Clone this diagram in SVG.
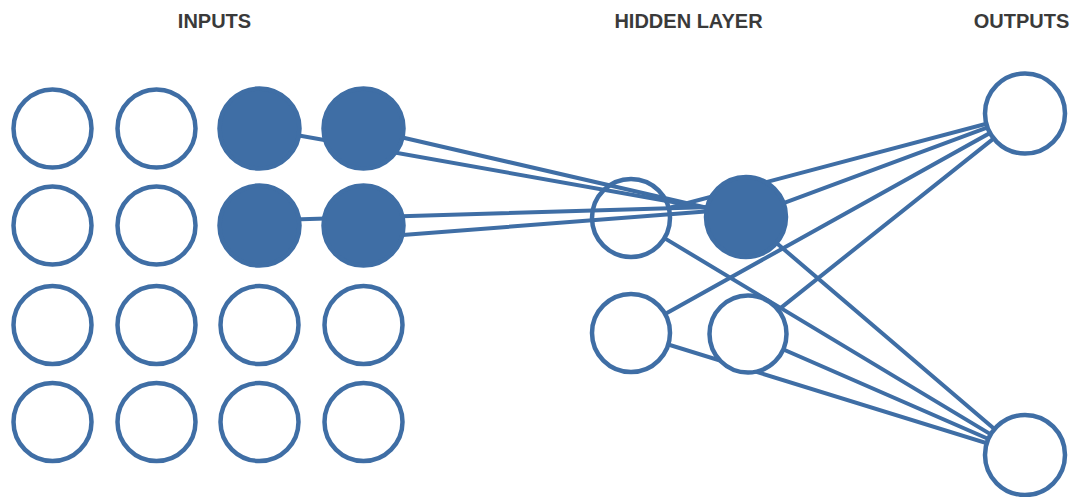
<svg xmlns="http://www.w3.org/2000/svg" width="1074" height="497" viewBox="0 0 1074 497">
  <style>
    .lbl { font-family: "Liberation Sans", Arial, sans-serif; font-weight: bold; font-size: 20px; fill: #3a3a3a; text-anchor: middle; }
    .edge { stroke: #3f6ea5; stroke-width: 4; fill: none; stroke-linecap: round; }
    .open { fill: #ffffff; stroke: #3f6ea5; stroke-width: 4.5; }
    .hollow { fill: none; stroke: #3f6ea5; stroke-width: 4.5; }
    .on { fill: #3f6ea5; stroke: #3f6ea5; stroke-width: 4.5; }
  </style>
  <rect width="1074" height="497" fill="#ffffff"/>
  <g id="labels">
    <text class="lbl" x="214.5" y="28">INPUTS</text>
    <text class="lbl" x="688.5" y="28">HIDDEN LAYER</text>
    <text class="lbl" x="1021.5" y="28">OUTPUTS</text>
  </g>
  <g id="connectors">
    <line class="edge" x1="363.5" y1="128.5" x2="712" y2="209"/>
    <line class="edge" x1="259.5" y1="128.5" x2="712" y2="209"/>
    <line class="edge" x1="259.5" y1="220.5" x2="712" y2="207"/>
    <line class="edge" x1="363.5" y1="238" x2="712" y2="211"/>
    <line class="edge" x1="670.6" y1="207.5" x2="1025" y2="113.5"/>
    <line class="edge" x1="746" y1="217" x2="1025" y2="113.5"/>
    <line class="edge" x1="631" y1="333" x2="1025" y2="113.5"/>
    <line class="edge" x1="748" y1="334" x2="1025" y2="113.5"/>
    <line class="edge" x1="666.1" y1="239.1" x2="1025" y2="455"/>
    <line class="edge" x1="746" y1="217" x2="1025" y2="455"/>
    <line class="edge" x1="631" y1="333" x2="1025" y2="455"/>
    <line class="edge" x1="748" y1="334" x2="1025" y2="455"/>
  </g>
  <g id="in-1-1"><circle class="open" cx="52.5" cy="128.5" r="39"/></g>
  <g id="in-1-2"><circle class="open" cx="156.5" cy="128.5" r="39"/></g>
  <g id="in-1-3"><circle class="on" cx="259.5" cy="128.5" r="40"/></g>
  <g id="in-1-4"><circle class="on" cx="363.5" cy="128.5" r="40"/></g>
  <g id="in-2-1"><circle class="open" cx="52.5" cy="225.5" r="39"/></g>
  <g id="in-2-2"><circle class="open" cx="156.5" cy="225.5" r="39"/></g>
  <g id="in-2-3"><circle class="on" cx="259.5" cy="225.5" r="40"/></g>
  <g id="in-2-4"><circle class="on" cx="363.5" cy="225.5" r="40"/></g>
  <g id="in-3-1"><circle class="open" cx="52.5" cy="325" r="39"/></g>
  <g id="in-3-2"><circle class="open" cx="156.5" cy="325" r="39"/></g>
  <g id="in-3-3"><circle class="open" cx="259.5" cy="325" r="39"/></g>
  <g id="in-3-4"><circle class="open" cx="363.5" cy="325" r="39"/></g>
  <g id="in-4-1"><circle class="open" cx="52.5" cy="422" r="39"/></g>
  <g id="in-4-2"><circle class="open" cx="156.5" cy="422" r="39"/></g>
  <g id="in-4-3"><circle class="open" cx="259.5" cy="422" r="39"/></g>
  <g id="in-4-4"><circle class="open" cx="363.5" cy="422" r="39"/></g>
  <g id="hidden-1"><circle class="hollow" cx="631" cy="218" r="39"/></g>
  <g id="hidden-2"><circle class="on" cx="746" cy="217" r="40"/></g>
  <g id="hidden-3"><circle class="open" cx="631" cy="333" r="39"/></g>
  <g id="hidden-4"><circle class="open" cx="748" cy="334" r="38.5"/></g>
  <g id="out-1"><circle class="open" cx="1025" cy="113.5" r="40"/></g>
  <g id="out-2"><circle class="open" cx="1025" cy="455" r="40"/></g>
</svg>
